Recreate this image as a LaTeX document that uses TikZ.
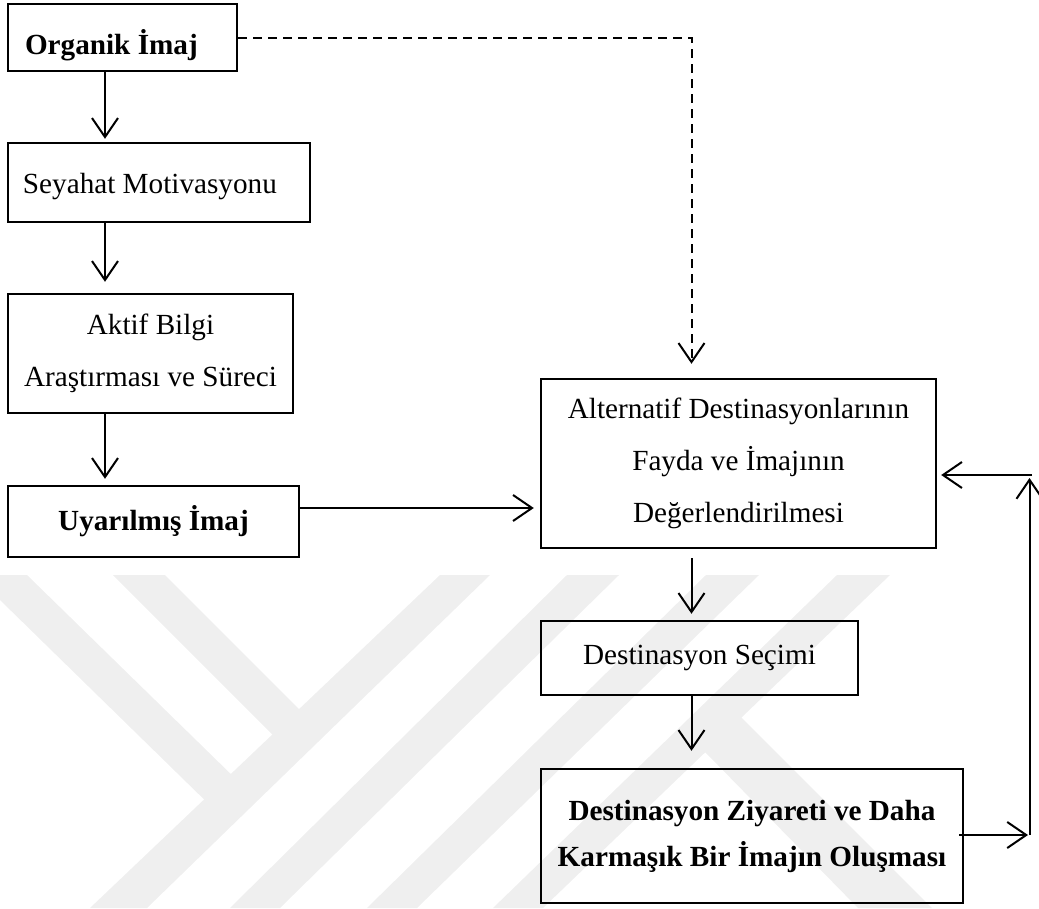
\documentclass[tikz,border=0pt]{standalone}
\usepackage{fontspec}
\setmainfont{Liberation Serif}
\usetikzlibrary{arrows.meta,calc}
\definecolor{wmgray}{HTML}{EFEFEF}
\begin{document}
\begin{tikzpicture}[x=1pt,y=-1pt,
  box/.style={draw, line width=2.4pt, rectangle, inner sep=0pt,
    font=\fontsize{29.2}{51.7}\selectfont},
  boldbox/.style={box, font=\fontsize{29.2}{46}\selectfont\bfseries},
  tip/.style={-{Straight Barb[length=19pt,width=26pt,line width=2pt]}},
  arr/.style={line width=2pt, tip},
  dasharr/.style={arr, dash pattern=on 9pt off 6pt},
  emblem/.style={fill=wmgray, draw=none}]

\useasboundingbox (0,0) rectangle (1039,908);

% background emblem
\fill[emblem] (0,575) -- (27,575) -- (240,783) -- (220,815) -- (0,600) -- cycle;
\fill[emblem] (113,575) -- (165,575) -- (315,725) -- (290,752) -- cycle;
\fill[emblem] (440,575) -- (490,575) -- (147,908) -- (90,908) -- cycle;
\fill[emblem] (567,575) -- (619,575) -- (280,908) -- (230,908) -- cycle;
\fill[emblem] (706,575) -- (759,575) -- (417,908) -- (367,908) -- cycle;
\fill[emblem] (837,575) -- (890,575) -- (543,908) -- (493,908) -- cycle;
\fill[emblem] (741,717) -- (932,908) -- (858,908) -- (705,752) -- cycle;

% left column
\node[box, minimum width=229pt, minimum height=67pt, text width=195pt,
      align=flush left, text height=33pt, text depth=0pt,
      font=\fontsize{29.2}{51.7}\selectfont\bfseries]
  (org) at (122.5,37.5) {Organik İmaj};
\node[box, minimum width=302pt, minimum height=79pt, text width=272pt,
      align=flush left, text height=21.6pt, text depth=0pt]
  (sey) at (159,182.5) {Seyahat Motivasyonu};
\node[box, minimum width=285pt, minimum height=119pt, align=center]
  (akt) at (150.5,353.5) {Aktif Bilgi\\Araştırması ve Süreci};
\node[box, minimum width=291pt, minimum height=71pt,
      font=\fontsize{29.2}{51.7}\selectfont\bfseries]
  (uya) at (153.5,521.5) {Uyarılmış İmaj};

% right column
\node[box, minimum width=395pt, minimum height=169pt, align=center]
  (alt) at (738.5,463.5) {Alternatif Destinasyonlarının\\Fayda ve İmajının\\Değerlendirilmesi};
\node[box, minimum width=317pt, minimum height=74pt]
  (sec) at (699.5,658) {Destinasyon Seçimi};
\node[boldbox, minimum width=422pt, minimum height=134pt, align=center]
  (ziy) at (752,836) {Destinasyon Ziyareti ve Daha\\Karmaşık Bir İmajın Oluşması};

% connector columns and feedback corners
\coordinate (lc) at (105,0);
\coordinate (rc) at (691.5,0);
\coordinate (uy) at (0,508);
\coordinate (fb1) at (1029.5,835);
\coordinate (fb2) at (1029.5,475);

\draw[arr, shorten >=3pt] (org.south -| lc) -- (sey.north -| lc);
\draw[arr, shorten >=11pt] (sey.south -| lc) -- (akt.north -| lc);
\draw[arr, shorten >=6pt] (akt.south -| lc) -- (uya.north -| lc);
\draw[arr, shorten >=6pt] (uya.east |- uy) -- (alt.west |- uy);

\draw[dasharr, shorten >=14pt] (org.east) -| (alt.north -| rc);

\draw[arr, shorten <=9pt, shorten >=6pt] (alt.south -| rc) -- (sec.north -| rc);
\draw[arr, shorten >=17pt] (sec.south -| rc) -- (ziy.north -| rc);

\draw[arr, shorten <=-5pt, shorten >=1.5pt] (ziy.east |- fb1) -- (fb1);
\draw[arr, shorten >=3pt] (fb1) -- (fb2);
\draw[arr, shorten >=4pt] ($(fb2)+(2.5,0)$) -- (alt.east |- fb2);
\end{tikzpicture}
\end{document}
